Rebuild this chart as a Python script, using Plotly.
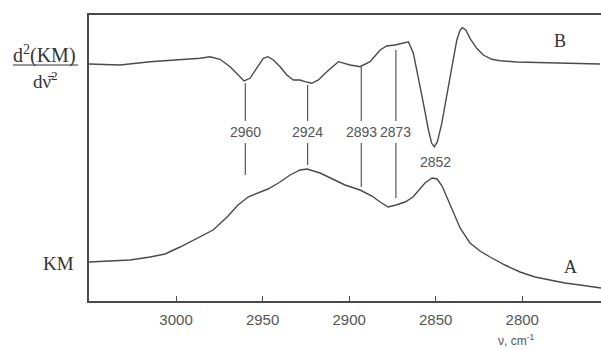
import plotly.graph_objects as go

# ---- data (intensities in arbitrary units) ----
wn_B = [3050.3, 3032.4, 3015.0, 2997.7, 2986.1, 2980.4, 2974.6, 2968.8, 2964.0, 2960.7,
        2957.3, 2953.4, 2949.6, 2947.0, 2943.8, 2939.9, 2936.0, 2932.2, 2928.4, 2925.5,
        2921.6, 2917.8, 2912.9, 2906.2, 2899.5, 2893.7, 2887.9, 2882.1, 2878.3, 2873.5,
        2868.7, 2865.8, 2862.9, 2860.0, 2857.1, 2854.2, 2852.3, 2850.8, 2849.0, 2846.5,
        2843.6, 2840.7, 2837.8, 2835.9, 2834.6, 2832.6, 2830.2, 2826.3, 2822.5, 2817.6,
        2812.8, 2803.2, 2783.9, 2755.1]
d2_B = [237, 236, 239.3, 241, 242.7, 244.3, 241.7, 234.3, 226, 220,
        222.7, 232.7, 242.7, 244.3, 241, 234.3, 226, 221, 221, 219.3,
        217.7, 221, 229.3, 239.3, 236, 234.3, 239.3, 251, 255, 256,
        258.3, 259.3, 247.7, 224.3, 197.7, 171, 157.7, 154.3, 159.3, 177.7,
        204.3, 234.3, 261, 271, 273.3, 271, 262.7, 252.7, 246, 241.7,
        240.3, 239, 238.3, 237]

wn_A = [3050.3, 3038.1, 3026.6, 3015.0, 3006.4, 2997.7, 2986.1, 2978.6, 2970.5, 2964.2,
        2958.4, 2952.6, 2946.9, 2939.9, 2934.1, 2928.4, 2924.3, 2916.8, 2911.0, 2902.4,
        2893.7, 2886.8, 2882.1, 2877.5, 2872.9, 2867.7, 2863.1, 2859.0, 2856.2, 2852.1,
        2849.2, 2846.3, 2841.7, 2835.9, 2830.2, 2824.4, 2818.6, 2810.0, 2801.3, 2792.6,
        2784.0, 2775.3, 2766.6, 2754.5]
km_A = [39, 40, 41, 44, 47, 54, 64, 71, 84, 96,
        104, 108, 112, 119, 126, 131, 132, 128, 123, 116,
        111, 105, 99, 94, 96, 99, 104, 112, 118, 123,
        122, 115, 96, 73, 58, 50, 44, 36, 29, 24,
        21, 18, 16, 13]

peak_wn = [2960, 2924, 2893, 2873]
peak_upper_top = [218, 216, 234, 251]
peak_upper_bottom = [180, 180, 180, 180]
peak_lower_top = [158, 158, 158, 158]
peak_lower_bottom = [126, 136, 114, 103]
peak_label_y = 169
main_peak_wn = 2850
main_peak_label = "2852"
main_peak_label_y = 139

x_ticks = [3000, 2950, 2900, 2850, 2800]
x_range = [3050.3, 2754.5]
y_range = [0, 286]

line_col = "#4a4a4a"
text_col = "#555555"
serif = "Liberation Serif, Times New Roman, serif"
sans = "Liberation Sans, Arial, sans-serif"

fig = go.Figure()

fig.add_trace(go.Scatter(x=wn_B, y=d2_B, mode="lines",
                         line=dict(color=line_col, width=1.4), hoverinfo="skip"))
fig.add_trace(go.Scatter(x=wn_A, y=km_A, mode="lines",
                         line=dict(color=line_col, width=1.4), hoverinfo="skip"))

# marker lines (two segments per peak, gap for the label)
mx, my = [], []
for w, a, b, c, d in zip(peak_wn, peak_upper_top, peak_upper_bottom,
                         peak_lower_top, peak_lower_bottom):
    mx += [w, w, None, w, w, None]
    my += [a, b, None, c, d, None]
fig.add_trace(go.Scatter(x=mx, y=my, mode="lines",
                         line=dict(color=line_col, width=1.1), hoverinfo="skip"))

for w in peak_wn:
    fig.add_annotation(x=w, y=peak_label_y, text=str(w), showarrow=False,
                       font=dict(family=sans, size=14, color=text_col),
                       xanchor="center", yanchor="middle")
fig.add_annotation(x=main_peak_wn, y=main_peak_label_y, text=main_peak_label, showarrow=False,
                   font=dict(family=sans, size=14, color=text_col),
                   xanchor="center", yanchor="middle")

# curve labels
fig.add_annotation(xref="paper", yref="paper", x=0.920, y=0.909, text="B", showarrow=False,
                   font=dict(family=serif, size=18, color="#333"), xanchor="center", yanchor="middle")
fig.add_annotation(xref="paper", yref="paper", x=0.941, y=0.119, text="A", showarrow=False,
                   font=dict(family=serif, size=18, color="#333"), xanchor="center", yanchor="middle")
fig.add_annotation(xref="paper", yref="paper", x=-0.0605, y=0.1294, text="KM", showarrow=False,
                   font=dict(family=serif, size=19, color="#333"), xanchor="center", yanchor="middle")

# y label as a fraction
fig.add_annotation(xref="paper", yref="paper", x=-0.086, y=0.862, text="d<sup>2</sup>(KM)",
                   showarrow=False, font=dict(family=serif, size=20, color="#333"),
                   xanchor="center", yanchor="middle")
fig.add_annotation(xref="paper", yref="paper", x=-0.084, y=0.772, text="dν̄<sup>2</sup>",
                   showarrow=False, font=dict(family=serif, size=19, color="#333"),
                   xanchor="center", yanchor="middle")
fig.add_shape(type="line", xref="paper", yref="paper", x0=-0.1484, x1=-0.0215,
              y0=0.8252, y1=0.8252, line=dict(color="#333", width=1.2))

# axis title
fig.add_annotation(xref="paper", yref="paper", x=0.834, y=-0.136, text="ν, cm<sup>-1</sup>",
                   showarrow=False, font=dict(family=sans, size=12, color=text_col),
                   xanchor="center", yanchor="middle")

fig.update_layout(
    width=601, height=349,
    margin=dict(l=89, r=0, t=15, b=48),
    paper_bgcolor="white", plot_bgcolor="white",
    showlegend=False,
    xaxis=dict(range=x_range, tickvals=x_ticks, ticks="inside", ticklen=5,
               tickcolor=line_col, showline=True, linecolor=line_col, linewidth=1.5,
               mirror=True, showgrid=False, zeroline=False, ticklabelstandoff=4,
               tickfont=dict(family=sans, size=15, color=text_col)),
    yaxis=dict(range=y_range, showline=True, linecolor=line_col, linewidth=1.5,
               showticklabels=False, ticks="", showgrid=False, zeroline=False),
)

fig.write_html("out.html")
